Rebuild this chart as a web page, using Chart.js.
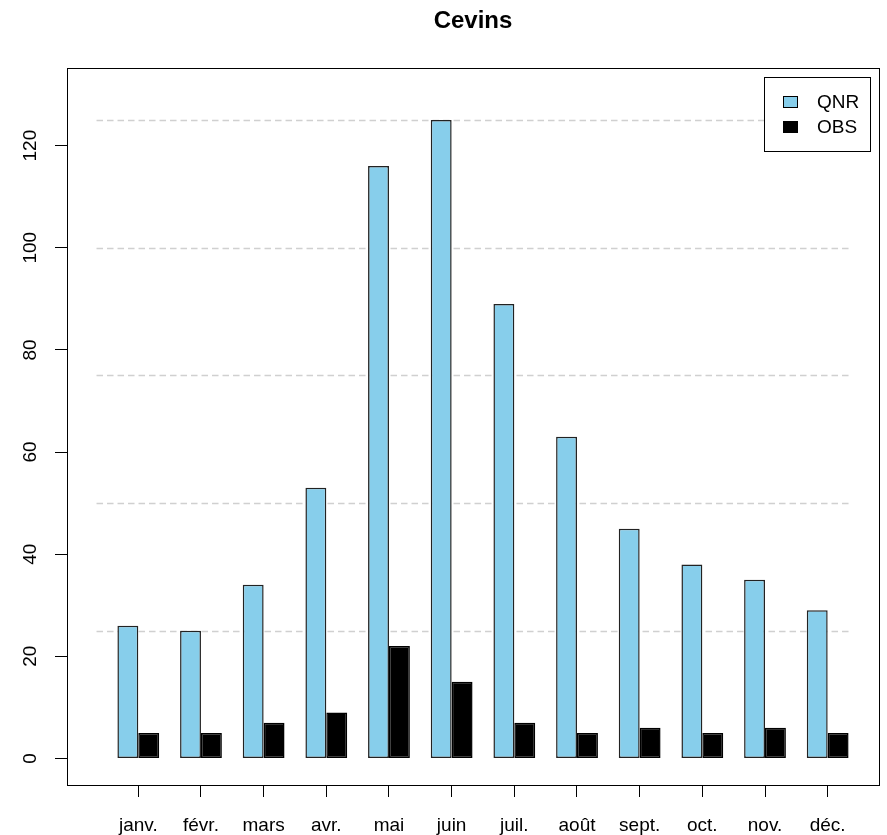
<!DOCTYPE html>
<html>
<head>
<meta charset="utf-8">
<title>Cevins</title>
<script src="https://cdn.jsdelivr.net/npm/chart.js@4.4.1/dist/chart.umd.min.js"></script>
<style>
  html, body { margin: 0; padding: 0; background: #fff; }
  canvas { display: block; }
</style>
</head>
<body>
<canvas id="graficoCevins" width="887" height="835"></canvas>
<script>
// Datos del gráfico
const mois = ["janv.", "févr.", "mars", "avr.", "mai", "juin", "juil.", "août", "sept.", "oct.", "nov.", "déc."];
const qnr = [26, 25, 34, 53, 116, 125, 89, 63, 45, 38, 35, 29];
const obs = [5, 5, 7, 9, 22, 15, 7, 5, 6, 5, 6, 5];
const yTicks = [0, 20, 40, 60, 80, 100, 120];
const gridLines = [25, 50, 75, 100, 125];

const FONT = "'Liberation Sans', Arial, sans-serif";

// Marco, rejilla discontinua y leyenda al estilo de R
const rStyle = {
  id: "rStyle",
  beforeDatasetsDraw(chart) {
    const { ctx, scales: { x, y } } = chart;
    // la rejilla va desde una barra antes del primer grupo hasta el borde del último
    const barW = (x.getPixelForValue(1) - x.getPixelForValue(0)) / 3;
    const x0 = x.getPixelForValue(0) - 2 * barW;
    const x1 = x.getPixelForValue(mois.length - 1) + barW;
    ctx.save();
    ctx.strokeStyle = "#d0d0d0";
    ctx.lineWidth = 1.3;
    ctx.setLineDash([6.5, 4]);
    gridLines.forEach((v) => {
      const py = Math.round(y.getPixelForValue(v)) + 0.5;
      ctx.beginPath();
      ctx.moveTo(x0, py);
      ctx.lineTo(x1, py);
      ctx.stroke();
    });
    ctx.restore();
  },
  afterDraw(chart) {
    const { ctx, chartArea: a } = chart;
    ctx.save();
    ctx.strokeStyle = "#000";
    ctx.lineWidth = 1;
    ctx.strokeRect(Math.round(a.left) + 0.5, Math.round(a.top) + 0.5,
      Math.round(a.right - a.left), Math.round(a.bottom - a.top));

    // leyenda
    const lx = 764.5, ly = 77.5, lw = 106, lh = 74;
    ctx.fillStyle = "#fff";
    ctx.fillRect(lx, ly, lw, lh);
    ctx.strokeRect(lx, ly, lw, lh);
    ctx.font = "19px " + FONT;
    ctx.textBaseline = "middle";
    ctx.textAlign = "left";
    chart.data.datasets.forEach((ds, i) => {
      const cy = 102 + i * 25;
      ctx.fillStyle = ds.backgroundColor;
      ctx.fillRect(783.5, cy - 5.5, 14, 11);
      ctx.strokeStyle = "#000";
      ctx.strokeRect(783.5, cy - 5.5, 14, 11);
      ctx.fillStyle = "#000";
      ctx.fillText(ds.label, 817, cy + 1);
    });
    ctx.restore();
  }
};

const ctx = document.getElementById("graficoCevins").getContext("2d");
new Chart(ctx, {
  type: "bar",
  data: {
    datasets: [
      {
        label: "QNR",
        data: qnr.map((v, i) => ({ x: i, y: v })),
        backgroundColor: "#87CEEB",
        borderColor: "#222222",
        borderWidth: 1.5,
        borderSkipped: false,
      },
      {
        label: "OBS",
        data: obs.map((v, i) => ({ x: i, y: v })),
        backgroundColor: "#000000",
        borderColor: "#000000",
        borderWidth: 1.5,
        borderSkipped: false,
      },
    ],
  },
  options: {
    responsive: false,
    animation: false,
    devicePixelRatio: 1,
    categoryPercentage: 2 / 3,
    barPercentage: 1,
    layout: { padding: { left: 0, right: 8, top: 0, bottom: 0 } },
    plugins: {
      legend: { display: false },
      tooltip: { enabled: false },
      title: {
        display: true,
        text: "Cevins",
        fullSize: false,
        color: "#000",
        font: { family: FONT, size: 24, weight: "bold" },
        padding: { top: 7, bottom: 32.2 },
      },
    },
    scales: {
      x: {
        type: "linear",
        position: "bottom",
        offset: false,
        min: -1.1377,
        max: 11.819,
        afterBuildTicks: (s) => { s.ticks = mois.map((m, i) => ({ value: i })); },
        afterFit: (s) => { s.height = 50; },
        grid: { offset: false, drawOnChartArea: false, drawTicks: true, tickLength: 12, color: "#000" },
        border: { display: false },
        ticks: {
          autoSkip: false,
          maxRotation: 0,
          padding: 17,
          color: "#000",
          font: { family: FONT, size: 19 },
          callback: (v) => mois[v],
        },
      },
      y: {
        type: "linear",
        min: -5.2,
        max: 135.2,
        afterBuildTicks: (s) => { s.ticks = yTicks.map((v) => ({ value: v })); },
        afterFit: (s) => { s.width = 67; },
        grid: { drawOnChartArea: false, drawTicks: true, tickLength: 12, color: "#000" },
        border: { display: false },
        ticks: {
          minRotation: 90,
          maxRotation: 90,
          crossAlign: "center",
          padding: 8,
          color: "#000",
          font: { family: FONT, size: 19 },
        },
      },
    },
  },
  plugins: [rStyle],
});
</script>
</body>
</html>
